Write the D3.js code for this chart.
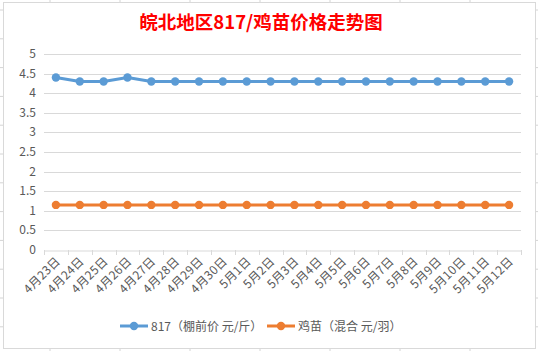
<!DOCTYPE html>
<html>
<head>
<meta charset="utf-8">
<script src="https://cdn.jsdelivr.net/npm/d3@7"></script>
<style>
  body { margin: 0; background: #fff; }
  svg { display: block; font-family: "Microsoft YaHei", "Noto Sans CJK SC", sans-serif; }
</style>
</head>
<body>
<div id="chart"></div>
<script>
const title = "皖北地区817/鸡苗价格走势图";
const dates = ["4月23日", "4月24日", "4月25日", "4月26日", "4月27日", "4月28日", "4月29日", "4月30日",
	"5月1日", "5月2日", "5月3日", "5月4日", "5月5日", "5月6日", "5月7日", "5月8日",
	"5月9日", "5月10日", "5月11日", "5月12日"];
const price817 = [4.4, 4.3, 4.3, 4.4, 4.3, 4.3, 4.3, 4.3, 4.3, 4.3, 4.3, 4.3, 4.3, 4.3, 4.3, 4.3, 4.3, 4.3, 4.3, 4.3];
const priceChick = [1.15, 1.15, 1.15, 1.15, 1.15, 1.15, 1.15, 1.15, 1.15, 1.15, 1.15, 1.15, 1.15, 1.15, 1.15, 1.15, 1.15, 1.15, 1.15, 1.15];
const yTicks = [0, 0.5, 1, 1.5, 2, 2.5, 3, 3.5, 4, 4.5, 5];
const seriesNames = ["817（棚前价 元/斤）", "鸡苗（混合 元/羽）"];
const seriesColors = ["#5B9BD5", "#ED7D31"];

const W = 538, H = 351;
const plot = {left: 44, right: 521, top: 54, bottom: 250};

const svg = d3.select("#chart").append("svg")
	.attr("width", W).attr("height", H);

// spreadsheet cells behind the chart
const cellX = [50, 120, 190, 260, 330, 400, 470];
const cellY = d3.range(10, H, 28.8);
svg.selectAll("line.cellx").data(cellX).enter().append("line")
	.attr("x1", d => d).attr("x2", d => d).attr("y1", 0).attr("y2", H)
	.attr("stroke", "#d4d4d4");
svg.selectAll("line.celly").data(cellY).enter().append("line")
	.attr("x1", 0).attr("x2", W).attr("y1", d => d).attr("y2", d => d)
	.attr("stroke", "#d4d4d4");

// chart area
svg.append("rect")
	.attr("x", 3.5).attr("y", 2.5).attr("width", 532).attr("height", 346)
	.attr("fill", "#fff").attr("stroke", "#d9d9d9");

svg.append("text")
	.attr("x", 261).attr("y", 29)
	.attr("text-anchor", "middle")
	.attr("fill", "#ff0000")
	.style("font-size", "18.5px").style("font-weight", "bold")
	.text(title);

const x = d3.scaleBand().domain(dates).range([plot.left, plot.right]);
const y = d3.scaleLinear().domain([0, 5]).range([plot.bottom, plot.top]);

// gridlines
svg.append("g").selectAll("line").data(yTicks.filter(d => d > 0)).enter().append("line")
	.attr("x1", plot.left).attr("x2", plot.right)
	.attr("y1", d => Math.round(y(d)) + 0.5).attr("y2", d => Math.round(y(d)) + 0.5)
	.attr("stroke", "#d9d9d9");

// y labels
svg.append("g").selectAll("text").data(yTicks).enter().append("text")
	.attr("x", 36).attr("y", d => y(d) + 4)
	.attr("text-anchor", "end")
	.attr("fill", "#595959")
	.style("font-size", "12px")
	.text(d => d);

// x axis
const xAxis = svg.append("g")
	.attr("transform", `translate(0,${plot.bottom + 0.5})`)
	.call(d3.axisBottom(x).tickSize(0).tickFormat(""));
xAxis.select(".domain").attr("stroke", "#d9d9d9");
const edges = dates.map(d => x(d)).concat([plot.right]);
svg.append("g").selectAll("line").data(edges).enter().append("line")
	.attr("x1", d => Math.round(d) + 0.5).attr("x2", d => Math.round(d) + 0.5)
	.attr("y1", plot.bottom).attr("y2", plot.bottom + 5)
	.attr("stroke", "#d9d9d9");

svg.append("g").selectAll("text").data(dates).enter().append("text")
	.attr("transform", d => `translate(${x(d) + x.bandwidth() / 2 + 5},${plot.bottom + 12}) rotate(-45)`)
	.attr("text-anchor", "end")
	.attr("fill", "#595959")
	.style("font-size", "12px")
	.style("letter-spacing", "0.3px")
	.text(d => d);

// series
const line = d3.line().x((d, i) => x(dates[i]) + x.bandwidth() / 2).y(d => y(d));
[price817, priceChick].forEach((vals, k) => {
	svg.append("path").datum(vals)
		.attr("d", line)
		.attr("fill", "none")
		.attr("stroke", seriesColors[k])
		.attr("stroke-width", 3)
		.attr("stroke-linejoin", "round");
	svg.append("g").selectAll("circle").data(vals).enter().append("circle")
		.attr("cx", (d, i) => x(dates[i]) + x.bandwidth() / 2)
		.attr("cy", d => y(d))
		.attr("r", 4.2)
		.attr("fill", seriesColors[k]);
});

// legend
const legendX = [120, 267];
seriesNames.forEach((name, k) => {
	const g = svg.append("g").attr("transform", `translate(${legendX[k]},326)`);
	g.append("line").attr("x1", 0).attr("x2", 28).attr("y1", 0).attr("y2", 0)
		.attr("stroke", seriesColors[k]).attr("stroke-width", 3);
	g.append("circle").attr("cx", 14).attr("cy", 0).attr("r", 4.2).attr("fill", seriesColors[k]);
	g.append("text").attr("x", 31).attr("y", 4.5)
		.attr("fill", "#595959")
		.style("font-size", "12px")
		.text(name);
});
</script>
</body>
</html>
